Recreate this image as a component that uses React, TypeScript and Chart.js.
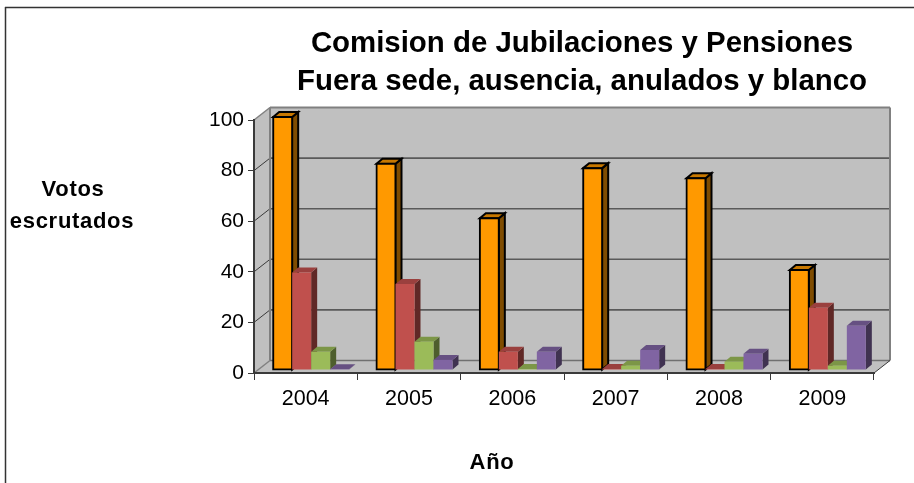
import React, { useEffect, useRef } from "react";
import { Chart, registerables } from "chart.js";

Chart.register(...registerables);

const years = ["2004", "2005", "2006", "2007", "2008", "2009"];
const fueraSede = [100, 81.5, 60, 79.8, 75.8, 39.5];
const ausencia = [38.5, 34, 7.2, 0.4, 0.4, 24.6];
const anulados = [7.2, 11.2, 0.4, 1.7, 3.3, 1.7];
const blanco = [0.3, 4, 7.2, 7.9, 6.4, 17.5];
const titleLines = ["Comision de Jubilaciones y Pensiones", "Fuera sede, ausencia, anulados y blanco"];
const yAxisLines = ["Votos", "escrutados"];
const xAxisLabel = "Año";

const FONT = "'Liberation Sans', Arial, sans-serif";
const WALL = "#C0C0C0";
const WALL_EDGE = "#808080";
const GRID = "#5A5A5A";
const AXIS = "#3A3A3A";
const WALL_DX = 16;
const WALL_DY = -12.5;
const PLANE_DX = 5.5;
const PLANE_DY = -3;
const BAR_DX = 6;
const BAR_DY = -5;

const faces = [
  { front: "#FF9900", top: "#C87800", side: "#7F4C00", stroke: "#000000" },
  { front: "#C0504D", top: "#9A403E", side: "#602826", stroke: "" },
  { front: "#9BBB59", top: "#7C9647", side: "#4E5E2D", stroke: "" },
  { front: "#8064A2", top: "#665082", side: "#403251", stroke: "" },
];

function poly(ctx: CanvasRenderingContext2D, pts: number[][], fill: string, stroke?: string) {
  ctx.beginPath();
  pts.forEach((p, i) => (i ? ctx.lineTo(p[0], p[1]) : ctx.moveTo(p[0], p[1])));
  ctx.closePath();
  ctx.fillStyle = fill;
  ctx.fill();
  if (stroke) {
    ctx.strokeStyle = stroke;
    ctx.lineWidth = 2;
    ctx.lineJoin = "miter";
    ctx.stroke();
  }
}

function seg(ctx: CanvasRenderingContext2D, x1: number, y1: number, x2: number, y2: number, color: string, w: number) {
  ctx.beginPath();
  ctx.moveTo(x1, y1);
  ctx.lineTo(x2, y2);
  ctx.strokeStyle = color;
  ctx.lineWidth = w;
  ctx.stroke();
}

const scene = {
  id: "scene",
  afterLayout(chart: any) {
    // the title is centred above the plot's depth-shifted body
    const shift = 145;
    chart.titleBlock.left += shift;
    chart.titleBlock.right += shift;
  },
  beforeDraw(chart: any) {
    const ctx: CanvasRenderingContext2D = chart.ctx;
    const { left, right, top, bottom } = chart.chartArea;
    const y = chart.scales.y;
    ctx.save();
    ctx.fillStyle = "#FFFFFF";
    ctx.fillRect(0, 0, chart.width, chart.height);
    // chart frame
    seg(ctx, 5.5, 7, 5.5, chart.height, "#333333", 1.5);
    seg(ctx, 5, 7.5, chart.width, 7.5, "#333333", 1.5);
    const dx = WALL_DX;
    const dy = WALL_DY;
    poly(ctx, [[left + dx, top + dy], [right + dx, top + dy], [right + dx, bottom + dy], [left + dx, bottom + dy]], WALL);
    poly(ctx, [[left, top], [left + dx, top + dy], [left + dx, bottom + dy], [left, bottom]], WALL);
    poly(ctx, [[left, bottom], [left + dx, bottom + dy], [right + dx, bottom + dy], [right, bottom]], WALL);
    y.ticks.forEach((t: any) => {
      const py = y.getPixelForValue(t.value);
      if (t.value > 0 && t.value < 100) {
        seg(ctx, left + dx, py + dy, right + dx, py + dy, GRID, 1.6);
        seg(ctx, left, py, left + dx, py + dy, AXIS, 1);
      }
    });
    seg(ctx, left + dx, top + dy, right + dx, top + dy, WALL_EDGE, 2);
    seg(ctx, left + dx, top + dy, left + dx, bottom + dy, WALL_EDGE, 2);
    seg(ctx, right + dx, top + dy, right + dx, bottom + dy, WALL_EDGE, 2);
    seg(ctx, left + dx, bottom + dy, right + dx, bottom + dy, "#707070", 1.6);
    seg(ctx, left, top, left + dx, top + dy, WALL_EDGE, 1.5);
    seg(ctx, left, bottom, left + dx, bottom + dy, WALL_EDGE, 1.5);
    seg(ctx, right, bottom, right + dx, bottom + dy, AXIS, 1);
    ctx.restore();
  },
  beforeDatasetDraw() {
    return false;
  },
  beforeDatasetsDraw(chart: any) {
    const ctx: CanvasRenderingContext2D = chart.ctx;
    ctx.save();
    ctx.translate(PLANE_DX, PLANE_DY);
    chart.data.datasets.forEach((_: any, i: number) => {
      const meta = chart.getDatasetMeta(i);
      const f = faces[i];
      meta.data.forEach((bar: any) => {
        const p = bar.getProps(["x", "y", "base", "width"], true);
        const l = p.x - p.width / 2;
        const r = p.x + p.width / 2;
        poly(ctx, [[r, p.base], [r + BAR_DX, p.base + BAR_DY], [r + BAR_DX, p.y + BAR_DY], [r, p.y]], f.side, f.stroke);
        poly(ctx, [[l, p.y], [l + BAR_DX, p.y + BAR_DY], [r + BAR_DX, p.y + BAR_DY], [r, p.y]], f.top, f.stroke);
      });
      meta.controller.draw();
    });
    ctx.restore();
  },
  afterDraw(chart: any) {
    const ctx: CanvasRenderingContext2D = chart.ctx;
    ctx.save();
    ctx.fillStyle = "#000000";
    ctx.font = `bold 22px ${FONT}`;
    (ctx as any).letterSpacing = "0.7px";
    ctx.textAlign = "center";
    ctx.textBaseline = "middle";
    yAxisLines.forEach((line, i) => ctx.fillText(line, i ? 72 : 73, 190 + i * 32));
    ctx.fillText(xAxisLabel, 492, 463);
    ctx.restore();
  },
};

export default function App() {
  const ref = useRef<HTMLCanvasElement>(null);
  useEffect(() => {
    const series = [fueraSede, ausencia, anulados, blanco];
    const chart = new Chart(ref.current as HTMLCanvasElement, {
      type: "bar",
      data: {
        labels: years,
        datasets: series.map((data, i) => ({
          label: `Serie ${i + 1}`,
          data,
          backgroundColor: faces[i].front,
          borderColor: faces[i].stroke || faces[i].front,
          borderWidth: faces[i].stroke ? 2 : 0,
          inflateAmount: faces[i].stroke ? 1 : 0,
          borderSkipped: false,
          categoryPercentage: 0.7355,
          barPercentage: 1,
        })),
      },
      plugins: [scene],
      options: {
        animation: false,
        responsive: false,
        devicePixelRatio: 1,
        layout: { padding: { left: 0, right: 40, top: 0, bottom: 0 } },
        font: { family: FONT },
        plugins: {
          legend: { display: false },
          tooltip: { enabled: false },
          title: {
            display: true,
            text: titleLines,
            color: "#000000",
            font: { family: FONT, size: 29.4, weight: "bold", lineHeight: 1.293 },
            padding: { top: 25, bottom: 19 },
          },
        },
        scales: {
          x: {
            afterFit(scale: any) {
              scale.height = 110;
            },
            grid: { drawOnChartArea: false, drawTicks: true, tickLength: 7, color: AXIS, offset: true, lineWidth: 1 },
            border: { color: AXIS, width: 2 },
            ticks: { color: "#000000", font: { family: FONT, size: 21.5 }, padding: 6, maxRotation: 0 },
          },
          y: {
            min: 0,
            max: 100,
            afterFit(scale: any) {
              scale.width = 254;
            },
            grid: { drawOnChartArea: false, drawTicks: true, tickLength: 6, color: AXIS, lineWidth: 1 },
            border: { color: AXIS, width: 2 },
            ticks: { stepSize: 20, color: "#000000", font: { family: FONT, size: 21 }, padding: 4 },
          },
        },
      } as any,
    });
    return () => chart.destroy();
  }, []);
  return (
    <div style={{ position: "absolute", left: 0, top: 0, width: 914, height: 483 }}>
      <canvas ref={ref} width={914} height={483} style={{ display: "block" }} />
    </div>
  );
}
